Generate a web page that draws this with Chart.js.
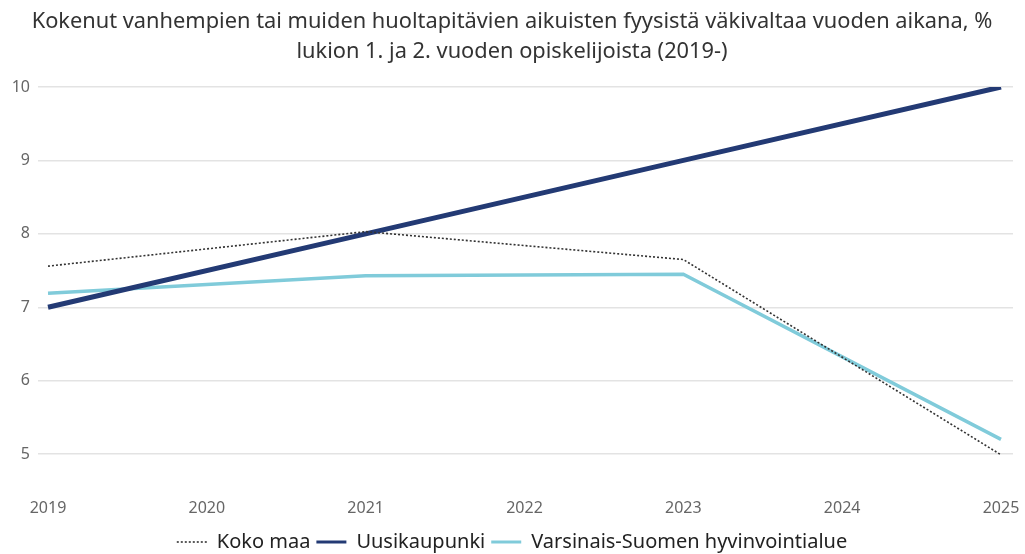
<!DOCTYPE html>
<html><head><meta charset="utf-8">
<script src="https://cdn.jsdelivr.net/npm/chart.js@4"></script>
<style>html,body{margin:0;padding:0;background:#fff;}#wrap{width:1025px;height:554px;}</style>
</head><body><div id="wrap"><canvas id="c" width="1025" height="554"></canvas></div>
<script>
const years = [2019, 2021, 2023, 2025];
const kokoMaa = [7.56, 8.03, 7.65, 4.99];
const uusikaupunki = [7.0, 8.0, 9.0, 10.0];
const varsinaisSuomi = [7.19, 7.43, 7.45, 5.2];
const xTicks = [2019, 2020, 2021, 2022, 2023, 2024, 2025];
const yTicks = [5, 6, 7, 8, 9, 10];
const titleLines = ['Kokenut vanhempien tai muiden huoltapitävien aikuisten fyysistä väkivaltaa vuoden aikana, %', 'lukion 1. ja 2. vuoden opiskelijoista (2019-)'];

const pts = arr => years.map((y, i) => ({x: y, y: arr[i]}));
new Chart(document.getElementById('c'), {
  type: 'line',
  data: { datasets: [
    {label: 'Koko maa', data: pts(kokoMaa), borderColor: '#333', backgroundColor: '#333', borderWidth: 1.6, borderDash: [2, 2], pointRadius: 0, pointHoverRadius: 0, order: 1},
    {label: 'Uusikaupunki', data: pts(uusikaupunki), borderColor: '#233a74', backgroundColor: '#233a74', borderWidth: 5, pointRadius: 0, pointHoverRadius: 0, order: 2},
    {label: 'Varsinais-Suomen hyvinvointialue', data: pts(varsinaisSuomi), borderColor: '#80cbda', backgroundColor: '#80cbda', borderWidth: 3.5, pointRadius: 0, pointHoverRadius: 0, order: 3}
  ]},
  options: {
    responsive: false, animation: false,
    layout: {autoPadding: false, padding: {left: 11, right: 12, top: 0, bottom: -8}},
    plugins: {
      title: {display: true, text: titleLines, color: '#333', font: {family: 'Noto Sans', size: 21.8, weight: 'normal', lineHeight: 1.376}, padding: {top: 7, bottom: 20}},
      legend: {position: 'bottom', labels: {usePointStyle: true, pointStyle: 'line', pointStyleWidth: 30, color: '#222', font: {family: 'Noto Sans', size: 20}, padding: 6,
        generateLabels: chart => {
          const items = Chart.defaults.plugins.legend.labels.generateLabels(chart);
          items.forEach(it => {
            const ds = chart.data.datasets[it.datasetIndex];
            it.lineDash = ds.borderDash || [];
            it.lineWidth = Math.min(ds.borderWidth, 3);
            it.strokeStyle = ds.borderColor;
          });
          return items;
        }}},
      tooltip: {enabled: false}
    },
    scales: {
      x: {type: 'linear', min: 2018.937, max: 2025.0756,
        afterBuildTicks: a => { a.ticks = xTicks.map(v => ({value: v})); },
        afterFit: s => { s.paddingLeft = 0; s.paddingRight = 0; s.height += 8; },
        grid: {display: false}, border: {display: false},
        ticks: {color: '#666', font: {family: 'Noto Sans', size: 16}, padding: 0, maxRotation: 0, callback: v => String(v)}},
      y: {min: 4.5, max: 10,
        afterBuildTicks: a => { a.ticks = yTicks.map(v => ({value: v})); },
        afterFit: s => { s.width = 27; },
        grid: {color: '#e3e3e3', lineWidth: 1.5, drawTicks: false}, border: {display: false},
        ticks: {color: '#666', font: {family: 'Noto Sans', size: 16}, padding: 8}}
    }
  }
});
</script></body></html>
